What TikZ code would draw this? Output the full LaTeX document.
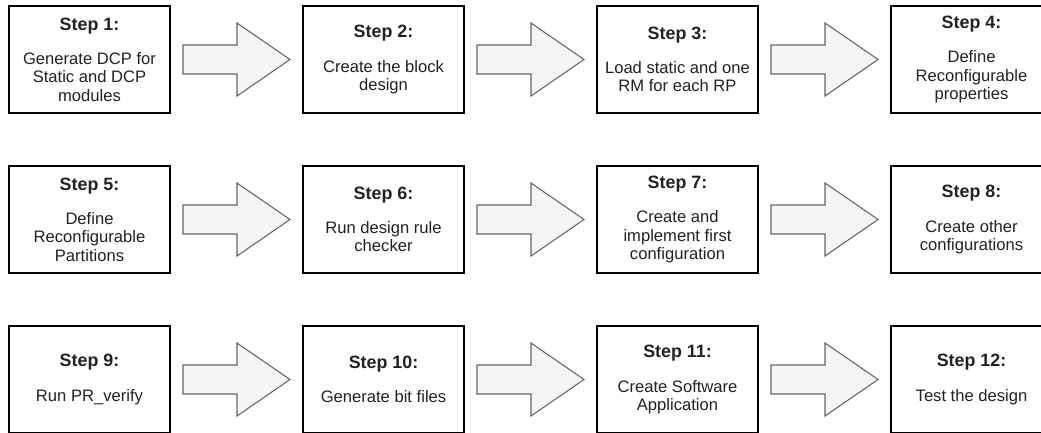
\documentclass[tikz,border=0pt]{standalone}
\usepackage{fontspec}
\setmainfont{Liberation Sans}
\usetikzlibrary{positioning, calc}

\definecolor{arrowfill}{HTML}{F5F5F5}
\definecolor{arrowline}{HTML}{666666}
\definecolor{steptext}{HTML}{222222}

% block arrow from one step box to the next
\newcommand{\flowarrow}[2]{%
  \draw[flowarrow] ($(#1.east)+(13,14.5)$) -- ++(54,0) -- ++(0,22)
    -- ($(#2.west)+(-13,0)$) -- ($(#1.east)+(67,-36.5)$) -- ++(0,22) -- ++(-54,0) -- cycle;}
% bold heading of a step box
\newcommand{\stephead}[1]{{\fontsize{13.4}{13.7}\selectfont\bfseries #1}}

\begin{document}
\begin{tikzpicture}[x=0.75pt,y=0.75pt,node distance=39.75pt and 99.75pt]
        \tikzstyle{stepbox}=[rectangle,draw=black,line width=1.1pt,fill=white,align=center,
          minimum width=120.75pt,minimum height=80.25pt,inner sep=0pt,outer sep=0pt,
          text=steptext,font=\fontsize{12.45}{13.7}\selectfont]
        \tikzstyle{flowarrow}=[draw=arrowline,fill=arrowfill,line width=0.8pt,line join=miter]
        \useasboundingbox (0,0) rectangle (1041,-432);
        \clip (0,0) rectangle (1041,-432);
        % row 1
        \node[stepbox] (s1) at (89.5,-59.5) {\stephead{Step 1:}\\[12pt]Generate DCP for\\Static and DCP\\modules};
        \node[stepbox,right=of s1] (s2) {\stephead{Step 2:}\\[12pt]Create the block\\design};
        \node[stepbox,right=of s2] (s3) {\stephead{Step 3:}\\[12pt]Load static and one\\RM for each RP};
        \node[stepbox,right=of s3] (s4) {\stephead{Step 4:}\\[12pt]Define\\Reconfigurable\\properties};
        % row 2
        \node[stepbox,below=of s1] (s5) {\stephead{Step 5:}\\[12pt]Define\\Reconfigurable\\Partitions};
        \node[stepbox,right=of s5] (s6) {\stephead{Step 6:}\\[12pt]Run design rule\\checker};
        \node[stepbox,right=of s6] (s7) {\stephead{Step 7:}\\[12pt]Create and\\implement first\\configuration};
        \node[stepbox,right=of s7] (s8) {\stephead{Step 8:}\\[12pt]Create other\\configurations};
        % row 3
        \node[stepbox,below=of s5] (s9) {\stephead{Step 9:}\\[12pt]Run PR\_verify};
        \node[stepbox,right=of s9] (s10) {\stephead{Step 10:}\\[12pt]Generate bit files};
        \node[stepbox,right=of s10] (s11) {\stephead{Step 11:}\\[12pt]Create Software\\Application};
        \node[stepbox,right=of s11] (s12) {\stephead{Step 12:}\\[12pt]Test the design};
        % arrows
        \foreach \a/\b in {s1/s2,s2/s3,s3/s4,s5/s6,s6/s7,s7/s8,s9/s10,s10/s11,s11/s12}
          \flowarrow{\a}{\b};
    \end{tikzpicture}
\end{document}
